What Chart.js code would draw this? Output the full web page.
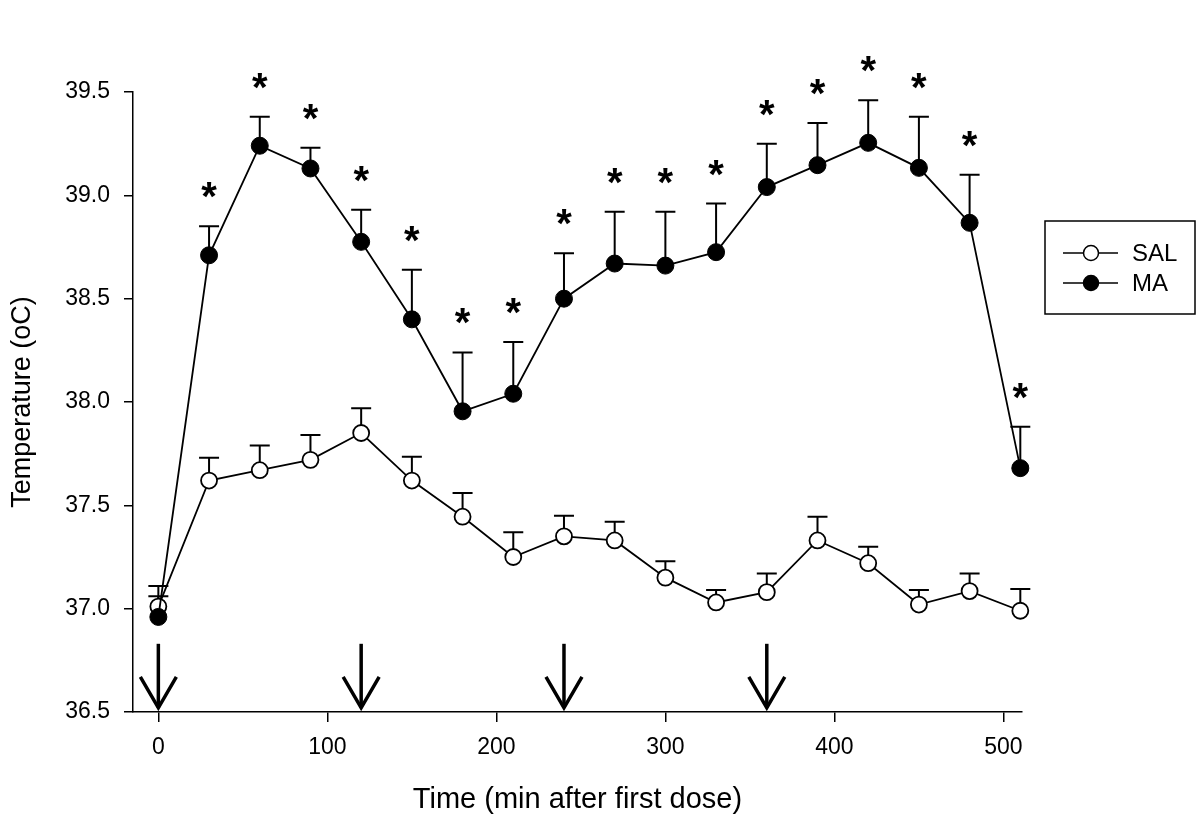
<!DOCTYPE html>
<html>
<head>
<meta charset="utf-8">
<script src="https://cdn.jsdelivr.net/npm/chart.js@4.4.0/dist/chart.umd.min.js"></script>
<style>
  body { margin: 0; background: #fff; }
  #wrap { width: 1200px; height: 820px; }
</style>
</head>
<body>
<div id="wrap"><canvas id="myChart" width="1200" height="820"></canvas></div>
<script>
// time points (min after first dose)
var times = [0, 30, 60, 90, 120, 150, 180, 210, 240, 270, 300, 330, 360, 390, 420, 450, 480, 510];

// saline group: mean and top of error bar
var salMean = [37.01, 37.62, 37.67, 37.72, 37.85, 37.62, 37.445, 37.25, 37.35, 37.33, 37.15, 37.03, 37.08, 37.33, 37.22, 37.02, 37.085, 36.99];
var salTop  = [37.11, 37.73, 37.79, 37.84, 37.97, 37.735, 37.56, 37.37, 37.45, 37.42, 37.23, 37.09, 37.17, 37.445, 37.30, 37.09, 37.17, 37.095];

// methamphetamine group
var maMean = [36.96, 38.71, 39.24, 39.13, 38.775, 38.40, 37.955, 38.04, 38.50, 38.67, 38.66, 38.725, 39.04, 39.146, 39.254, 39.133, 38.867, 37.68];
var maTop  = [37.06, 38.85, 39.38, 39.23, 38.93, 38.64, 38.24, 38.29, 38.72, 38.92, 38.92, 38.96, 39.25, 39.35, 39.46, 39.38, 39.10, 37.88];
var maSig  = [false, true, true, true, true, true, true, true, true, true, true, true, true, true, true, true, true, true];

// dose times (arrows)
var doseTimes = [0, 120, 240, 360];

var xTicks = [0, 100, 200, 300, 400, 500];
var yTicks = [36.5, 37.0, 37.5, 38.0, 38.5, 39.0, 39.5];

var FONT = "'Liberation Sans', Arial, sans-serif";

function pts(means) {
  return times.map(function(t, i) { return { x: t, y: means[i] }; });
}

// error bars (upper only) + significance stars + dose arrows + legend
var extras = {
  id: 'extras',
  beforeDatasetsDraw: function(chart) {
    var ctx = chart.ctx;
    var xs = chart.scales.x, ys = chart.scales.y;
    ctx.save();
    ctx.strokeStyle = '#000';
    ctx.lineWidth = 2;
    [[salMean, salTop], [maMean, maTop]].forEach(function(s) {
      for (var i = 0; i < times.length; i++) {
        var px = xs.getPixelForValue(times[i]);
        var y0 = ys.getPixelForValue(s[0][i]);
        var y1 = ys.getPixelForValue(s[1][i]);
        ctx.beginPath();
        ctx.moveTo(px, y0);
        ctx.lineTo(px, y1);
        ctx.moveTo(px - 10, y1);
        ctx.lineTo(px + 10, y1);
        ctx.stroke();
      }
    });
    ctx.restore();
  },
  afterDatasetsDraw: function(chart) {
    var ctx = chart.ctx;
    var xs = chart.scales.x, ys = chart.scales.y;
    ctx.save();
    // stars
    ctx.fillStyle = '#000';
    ctx.font = 'bold 40px ' + FONT;
    ctx.textAlign = 'center';
    ctx.textBaseline = 'alphabetic';
    for (var i = 0; i < times.length; i++) {
      if (!maSig[i]) continue;
      var px = xs.getPixelForValue(times[i]);
      var py = ys.getPixelForValue(maTop[i]);
      ctx.fillText('*', px, py - 16);
    }
    // arrows
    ctx.strokeStyle = '#000';
    ctx.lineWidth = 3.5;
    ctx.lineCap = 'butt';
    doseTimes.forEach(function(t) {
      var px = xs.getPixelForValue(t);
      var tip = ys.getPixelForValue(36.52);
      var tail = ys.getPixelForValue(36.83);
      ctx.beginPath();
      ctx.moveTo(px, tail);
      ctx.lineTo(px, tip);
      ctx.stroke();
      ctx.beginPath();
      ctx.moveTo(px - 18, tip - 31);
      ctx.lineTo(px, tip);
      ctx.lineTo(px + 18, tip - 31);
      ctx.stroke();
    });
    // legend
    ctx.lineWidth = 1.5;
    ctx.strokeRect(1045, 221, 150, 93);
    var rows = [['SAL', '#fff', 253], ['MA', '#000', 283]];
    ctx.font = '24px ' + FONT;
    ctx.textAlign = 'left';
    ctx.textBaseline = 'middle';
    rows.forEach(function(r) {
      ctx.lineWidth = 1.5;
      ctx.beginPath();
      ctx.moveTo(1063, r[2]);
      ctx.lineTo(1118, r[2]);
      ctx.stroke();
      ctx.beginPath();
      ctx.arc(1091, r[2], 7.5, 0, Math.PI * 2);
      ctx.fillStyle = r[1];
      ctx.fill();
      ctx.stroke();
      ctx.fillStyle = '#000';
      ctx.fillText(r[0], 1132, r[2] + 1);
    });
    ctx.restore();
  }
};

var ctx = document.getElementById('myChart').getContext('2d');
var chart = new Chart(ctx, {
  type: 'line',
  data: {
    datasets: [{
      label: 'SAL',
      data: pts(salMean),
      borderColor: '#000',
      borderWidth: 1.8,
      pointRadius: 8,
      pointBackgroundColor: '#fff',
      pointBorderColor: '#000',
      pointBorderWidth: 1.8,
      clip: false,
      order: 1
    }, {
      label: 'MA',
      data: pts(maMean),
      borderColor: '#000',
      borderWidth: 1.8,
      pointRadius: 8.5,
      pointBackgroundColor: '#000',
      pointBorderColor: '#000',
      pointBorderWidth: 1,
      clip: false,
      order: 0
    }]
  },
  options: {
    responsive: false,
    animation: false,
    layout: { padding: { top: 92, right: 178, left: 0, bottom: 0 } },
    plugins: {
      legend: { display: false },
      tooltip: { enabled: false }
    },
    scales: {
      x: {
        type: 'linear',
        min: -15,
        max: 511,
        afterBuildTicks: function(scale) {
          scale.ticks = xTicks.map(function(v) { return { value: v }; });
        },
        afterFit: function(scale) { scale.height = 108; },
        grid: { drawOnChartArea: false, tickLength: 10, color: '#000', lineWidth: 1.5 },
        border: { display: true, color: '#000', width: 1.5 },
        ticks: { color: '#000', font: { family: FONT, size: 23 }, padding: 12, maxRotation: 0 },
        title: { display: true, text: 'Time (min after first dose)', color: '#000',
                 font: { family: FONT, size: 29 }, padding: { top: 0, bottom: 3 } }
      },
      y: {
        min: 36.5,
        max: 39.5,
        afterBuildTicks: function(scale) {
          scale.ticks = yTicks.map(function(v) { return { value: v }; });
        },
        afterFit: function(scale) { scale.width = 133; },
        grid: { drawOnChartArea: false, tickLength: 9, color: '#000', lineWidth: 1.5 },
        border: { display: true, color: '#000', width: 1.5 },
        ticks: { color: '#000', font: { family: FONT, size: 23 }, padding: 14,
                 callback: function(v) { return v.toFixed(1); } },
        title: { display: true, text: 'Temperature (oC)', color: '#000',
                 font: { family: FONT, size: 27 }, padding: { top: 6, bottom: 0 } }
      }
    }
  },
  plugins: [extras]
});
</script>
</body>
</html>
